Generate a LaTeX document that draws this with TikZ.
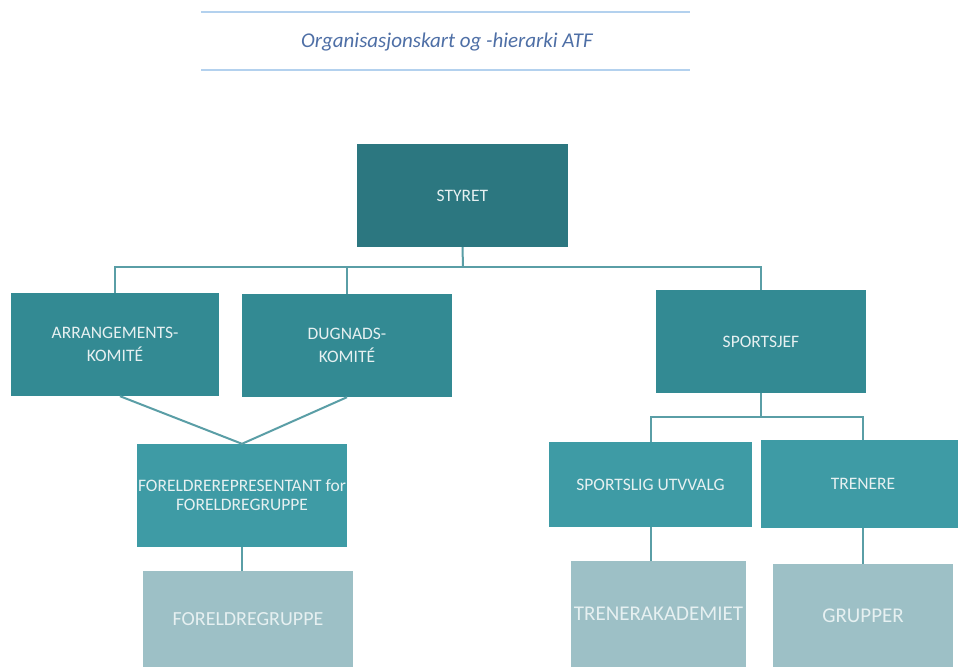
\documentclass[tikz,border=0pt]{standalone}
\usepackage{fontspec}
\setmainfont{Carlito}
\definecolor{cTop}{HTML}{2C7780}
\definecolor{cMid}{HTML}{338A93}
\definecolor{cLow}{HTML}{3E9BA5}
\definecolor{cBot}{HTML}{9DC0C6}
\definecolor{cLine}{HTML}{5A9EA6}
\definecolor{cRule}{HTML}{B3D1EE}
\definecolor{cTitle}{HTML}{4E6FA6}
\definecolor{cText}{HTML}{E6F0F1}
\tikzset{
  orgbox/.style={rectangle, inner sep=0pt, align=center, text=cText, font=\fontsize{17.5}{23}\selectfont},
  bigtext/.style={font=\fontsize{21}{25}\selectfont},
  conn/.style={draw=cLine, line width=2pt},
  rulel/.style={draw=cRule, line width=1.5pt},
}
\begin{document}
\begin{tikzpicture}[x=1pt,y=-1pt]
\useasboundingbox (0,0) rectangle (958,667);
\clip (0,0) rectangle (958,667);
\fill[white] (0,0) rectangle (958,667);
% title
\coordinate (r1a) at (201,12); \coordinate (r1b) at (690,12);
\coordinate (r2a) at (201,70); \coordinate (r2b) at (690,70);
\draw[rulel] (r1a) -- (r1b);
\draw[rulel] (r2a) -- (r2b);
\node[text=cTitle, font=\fontsize{21}{25}\selectfont\itshape] (title) at (447,42) {Organisasjonskart og -hierarki ATF};
% boxes
\node[orgbox, fill=cTop, minimum width=211pt, minimum height=103pt] (sty) at (462.5,195.5) {STYRET};
\node[orgbox, fill=cMid, minimum width=208pt, minimum height=103pt] (arr) at (115,344.5) {ARRANGEMENTS-\\KOMITÉ};
\node[orgbox, fill=cMid, minimum width=210pt, minimum height=103pt] (dug) at (347,345.5) {DUGNADS-\\KOMITÉ};
\node[orgbox, fill=cMid, minimum width=210pt, minimum height=103pt] (spj) at (761,341.5) {SPORTSJEF};
\node[orgbox, fill=cLow, minimum width=210pt, minimum height=103pt, font=\fontsize{17.5}{19}\selectfont] (rep) at (242,495.5) {FORELDREREPRESENTANT for\\FORELDREGRUPPE};
\node[orgbox, fill=cLow, minimum width=203pt, minimum height=85pt] (sut) at (650.5,484.5) {SPORTSLIG UTVVALG};
\node[orgbox, fill=cLow, minimum width=204pt, minimum height=88pt] (tre) at (863,484) {TRENERE};
\node[orgbox, bigtext, fill=cBot, minimum width=210pt, minimum height=96pt, font=\fontsize{20}{24}\selectfont] (fgr) at (248,619) {FORELDREGRUPPE};
\node[orgbox, bigtext, fill=cBot, minimum width=175pt, minimum height=106pt] (tak) at (658.5,614) {TRENERAKADEMIET};
\node[orgbox, bigtext, fill=cBot, minimum width=180pt, minimum height=103pt] (grp) at (863,615.5) {GRUPPER};
% connectors
\coordinate (j1) at (463,267);
\coordinate (j2) at (761,417);
\draw[conn] (sty.south) -- (j1);
\draw[conn] (arr.north) |- (j1) -| (spj.north);
\draw[conn] (dug.north) -- (dug.north |- j1);
\draw[conn] (arr.south -| 120,0) -- (rep.north) -- (dug.south);
\draw[conn] (rep.south) -- (rep.south |- fgr.north);
\draw[conn] (spj.south) -- (j2);
\draw[conn] (sut.north) |- (j2) -| (tre.north);
\draw[conn] (sut.south) -- (sut.south |- tak.north);
\draw[conn] (tre.south) -- (grp.north);
\end{tikzpicture}
\end{document}
